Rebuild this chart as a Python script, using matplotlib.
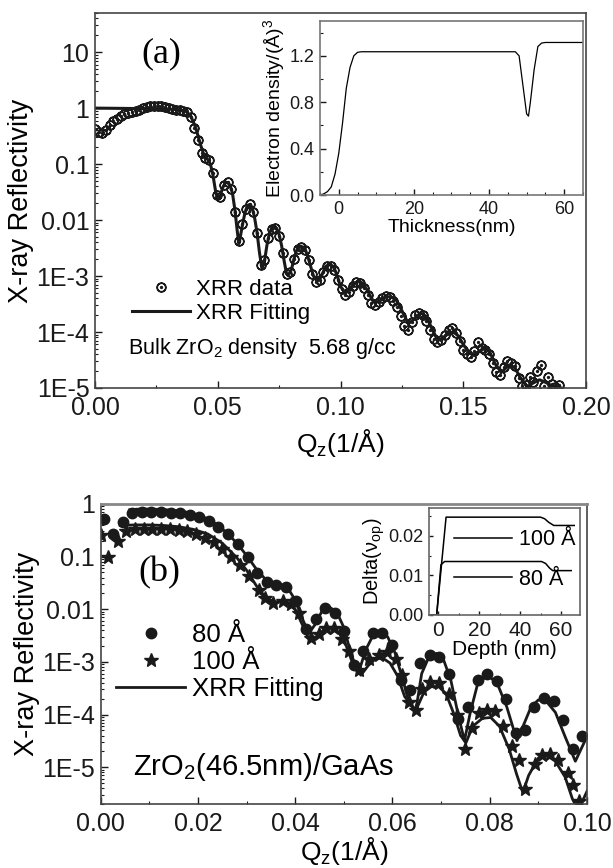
"""XRR reflectivity curves for ZrO2 on GaAs, two panels with density-profile insets."""

import matplotlib
matplotlib.use("Agg")
import matplotlib.pyplot as plt
import numpy as np
from matplotlib.ticker import FixedLocator, FixedFormatter, LogLocator, MultipleLocator, NullFormatter

plt.rcParams["font.family"] = ["Liberation Sans", "DejaVu Sans"]
plt.rcParams["mathtext.fontset"] = "custom"
plt.rcParams["mathtext.rm"] = "Liberation Sans"
plt.rcParams["mathtext.it"] = "Liberation Sans:italic"
plt.rcParams["mathtext.sf"] = "Liberation Sans"

# ---------------- panel (a): measured XRR data ----------------
qa_data = [0.0000, 0.0015, 0.0030, 0.0045, 0.0060, 0.0075, 0.0090, 0.0105, 0.0120, 0.0135,
           0.0150, 0.0165, 0.0180, 0.0195, 0.0210, 0.0225, 0.0240, 0.0255, 0.0270, 0.0285,
           0.0300, 0.0315, 0.0330, 0.0345, 0.0360, 0.0375, 0.0390, 0.0405, 0.0420, 0.0435,
           0.0450, 0.0465, 0.0480, 0.0495, 0.0510, 0.0525, 0.0540, 0.0555, 0.0570, 0.0585,
           0.0600, 0.0615, 0.0630, 0.0645, 0.0660, 0.0675, 0.0690, 0.0705, 0.0720, 0.0735,
           0.0750, 0.0765, 0.0780, 0.0795, 0.0810, 0.0825, 0.0840, 0.0855, 0.0870, 0.0885,
           0.0900, 0.0915, 0.0930, 0.0945, 0.0960, 0.0975, 0.0990, 0.1005, 0.1020, 0.1035,
           0.1050, 0.1065, 0.1080, 0.1095, 0.1110, 0.1125, 0.1140, 0.1155, 0.1170, 0.1185,
           0.1200, 0.1215, 0.1230, 0.1245, 0.1260, 0.1275, 0.1290, 0.1305, 0.1320, 0.1335,
           0.1350, 0.1365, 0.1380, 0.1395, 0.1410, 0.1425, 0.1440, 0.1455, 0.1470, 0.1485,
           0.1500, 0.1515, 0.1530, 0.1545, 0.1560, 0.1575, 0.1590, 0.1605, 0.1620, 0.1635,
           0.1650, 0.1665, 0.1680, 0.1695, 0.1710, 0.1725, 0.1740, 0.1755, 0.1770, 0.1785,
           0.1800, 0.1815, 0.1830, 0.1845, 0.1860, 0.1875, 0.1890]
ra_data = [0.42, 0.37, 0.36, 0.40, 0.50, 0.58, 0.65, 0.72, 0.78, 0.82,
           0.86, 0.90, 0.94, 1.00, 1.05, 1.08, 1.10, 1.10, 1.08, 1.05,
           1.00, 0.96, 0.93, 0.91, 0.88, 0.85, 0.70, 0.45, 0.27, 0.16,
           0.13, 0.12, 0.07, 0.028, 0.026, 0.042, 0.048, 0.036, 0.014, 0.0042,
           0.0085, 0.016, 0.019, 0.014, 0.0058, 0.0016, 0.0019, 0.0047, 0.0070, 0.0073,
           0.0053, 0.0026, 0.0011, 0.0012, 0.0020, 0.0030, 0.0033, 0.0029, 0.0019, 0.0011,
           7.8e-4, 8.5e-4, 1.2e-3, 1.5e-3, 1.5e-3, 1.3e-3, 8.5e-4, 5.8e-4, 4.6e-4, 5.2e-4,
           6.6e-4, 7.8e-4, 7.6e-4, 6.2e-4, 4.5e-4, 3.3e-4, 3.0e-4, 3.4e-4, 4.1e-4, 4.4e-4,
           4.3e-4, 3.6e-4, 2.8e-4, 1.9e-4, 1.3e-4, 1.1e-4, 1.5e-4, 2.0e-4, 2.2e-4, 2.0e-4,
           1.6e-4, 1.1e-4, 7.5e-5, 6.5e-5, 7.2e-5, 9.0e-5, 1.1e-4, 1.2e-4, 9.5e-5, 6.8e-5,
           4.8e-5, 4.0e-5, 3.6e-5, 4.5e-5, 6.6e-5, 5.2e-5, 4.8e-5, 4.1e-5, 2.8e-5, 1.9e-5,
           1.7e-5, 2.4e-5, 3.0e-5, 2.8e-5, 2.5e-5, 1.5e-5, 1.1e-5, 1.15e-5, 1.6e-5, 1.3e-5,
           2.0e-5, 2.6e-5, 1.1e-5, 1.6e-5, 1.2e-5, 1.05e-5, 1.15e-5]

# panel (a): fitted curve
qa_fit = [0.000, 0.010, 0.020, 0.030, 0.034, 0.037, 0.039, 0.041, 0.043, 0.0445,
          0.046, 0.047, 0.048, 0.049, 0.050, 0.051, 0.052, 0.053, 0.054, 0.055,
          0.056, 0.057, 0.058, 0.0586, 0.059, 0.060, 0.061, 0.062, 0.063, 0.064,
          0.065, 0.066, 0.067, 0.068, 0.069, 0.070, 0.071, 0.072, 0.073, 0.074,
          0.075, 0.076, 0.077, 0.078, 0.0787, 0.080, 0.081, 0.082, 0.083, 0.084,
          0.085, 0.086, 0.087, 0.088, 0.089, 0.0905, 0.092, 0.093, 0.094, 0.0955,
          0.097, 0.098, 0.099, 0.100, 0.102, 0.103, 0.105, 0.107, 0.109, 0.111,
          0.113, 0.114, 0.116, 0.118, 0.1205, 0.123, 0.125, 0.127, 0.128, 0.130,
          0.1326, 0.135, 0.137, 0.139, 0.140, 0.142, 0.144, 0.146, 0.148, 0.150,
          0.152, 0.154, 0.156, 0.159, 0.161, 0.163, 0.1655, 0.167, 0.169, 0.171,
          0.173, 0.176, 0.178, 0.181, 0.183, 0.186, 0.1907]
ra_fit = [1.00, 0.99, 0.98, 0.96, 0.94, 0.88, 0.72, 0.45, 0.22, 0.14,
          0.12, 0.10, 0.065, 0.035, 0.023, 0.027, 0.038, 0.046, 0.047, 0.042,
          0.030, 0.015, 0.006, 0.0038, 0.0045, 0.008, 0.013, 0.018, 0.019, 0.017,
          0.011, 0.006, 0.0026, 0.00135, 0.0018, 0.0035, 0.0057, 0.0072, 0.0076, 0.0071,
          0.0055, 0.0035, 0.0019, 0.0011, 0.00103, 0.0013, 0.0020, 0.0028, 0.0033, 0.0034,
          0.0032, 0.0027, 0.0020, 0.0014, 0.0010, 8.0e-4, 9.5e-4, 1.2e-3, 1.5e-3, 1.6e-3,
          1.5e-3, 1.2e-3, 9.0e-4, 6.5e-4, 5.0e-4, 5.3e-4, 7.0e-4, 8.0e-4, 7.5e-4, 5.5e-4,
          3.7e-4, 3.3e-4, 3.6e-4, 4.2e-4, 4.3e-4, 3.6e-4, 2.4e-4, 1.6e-4, 1.45e-4, 1.7e-4,
          2.2e-4, 1.9e-4, 1.2e-4, 8.0e-5, 7.2e-5, 8.0e-5, 9.5e-5, 1.0e-4, 8.5e-5, 6.0e-5,
          4.5e-5, 3.9e-5, 4.4e-5, 5.2e-5, 4.2e-5, 2.7e-5, 1.9e-5, 2.2e-5, 2.6e-5, 2.3e-5,
          1.6e-5, 1.04e-5, 1.2e-5, 1.4e-5, 1.3e-5, 1.1e-5, 9.8e-6]

# inset (a): electron density profile
thick_nm = [-5, -4, -3, -2, -1, 0, 1, 2, 3, 4, 5, 6, 47, 48, 49, 50, 50.5, 51, 52, 53, 54, 55, 65]
e_density = [0.0, 0.01, 0.03, 0.07, 0.18, 0.36, 0.62, 0.92, 1.10, 1.20, 1.23, 1.235, 1.235,
             1.20, 0.95, 0.70, 0.68, 0.80, 1.08, 1.28, 1.31, 1.315, 1.315]

# ---------------- panel (b) ----------------
qb_80 = [0.0006, 0.0026, 0.0045, 0.0065, 0.0085, 0.0104, 0.0124, 0.0144, 0.0164, 0.0183,
         0.0203, 0.0223, 0.0242, 0.0262, 0.0282, 0.0302, 0.0321, 0.0341, 0.0361, 0.0381,
         0.0402, 0.0422, 0.0443, 0.0462, 0.0482, 0.0501, 0.0521, 0.0540, 0.0559, 0.0579,
         0.0598, 0.0618, 0.0637, 0.0657, 0.0677, 0.0696, 0.0716, 0.0735, 0.0755, 0.0775,
         0.0794, 0.0814, 0.0834, 0.0853, 0.0873, 0.0892, 0.0912, 0.0932, 0.0951, 0.0971,
         0.0990]
rb_80 = [0.52, 0.27, 0.45, 0.68, 0.70, 0.70, 0.70, 0.68, 0.66, 0.62,
         0.56, 0.47, 0.37, 0.27, 0.17, 0.10, 0.048, 0.033, 0.029, 0.027,
         0.0143, 0.0042, 0.0065, 0.0107, 0.0086, 0.0039, 8.6e-4, 1.64e-3, 3.5e-3, 3.6e-3,
         2.1e-3, 4.5e-4, 2.9e-4, 9.5e-4, 1.38e-3, 1.23e-3, 5.8e-4, 8.2e-5, 1.4e-4, 4.6e-4,
         6.0e-4, 4.4e-4, 2.0e-4, 4.5e-5, 5.0e-5, 1.4e-4, 2.1e-4, 1.8e-4, 8.0e-5, 2.2e-5,
         3.9e-5]

qb_100 = [0.0001, 0.0016, 0.0035, 0.0052, 0.0070, 0.0088, 0.0106, 0.0124, 0.0142, 0.0160,
          0.0178, 0.0196, 0.0214, 0.0232, 0.0250, 0.0268, 0.0286, 0.0304, 0.0326, 0.0337,
          0.0354, 0.0374, 0.0391, 0.0408, 0.0432, 0.0449, 0.0464, 0.0480, 0.0497, 0.0511,
          0.0531, 0.0552, 0.0572, 0.0589, 0.0607, 0.0620, 0.0634, 0.0648, 0.0661, 0.0678,
          0.0695, 0.0716, 0.0733, 0.0750, 0.0764, 0.0777, 0.0794, 0.0811, 0.0828, 0.0845,
          0.0860, 0.0872, 0.0893, 0.0908, 0.0924, 0.0941, 0.0960, 0.0972, 0.0984]
rb_100 = [0.26, 0.10, 0.20, 0.30, 0.33, 0.33, 0.34, 0.34, 0.33, 0.32,
          0.30, 0.27, 0.23, 0.19, 0.14, 0.10, 0.068, 0.042, 0.0237, 0.0165,
          0.0133, 0.0143, 0.0124, 0.0086, 0.0029, 0.0034, 0.0045, 0.0045, 0.0027, 0.0016,
          6.9e-4, 1.15e-3, 1.38e-3, 1.53e-3, 1.15e-3, 5.6e-4, 1.76e-4, 1.2e-4, 3.0e-4, 4.2e-4,
          4.0e-4, 2.5e-4, 1.0e-4, 2.2e-5, 5.6e-5, 1.06e-4, 1.23e-4, 1.15e-4, 6.0e-5, 2.5e-5,
          1.4e-5, 3.9e-6, 1.15e-5, 1.7e-5, 1.8e-5, 1.4e-5, 7.9e-6, 4.5e-6, 2.3e-6]

qb_fit80 = [0.0060, 0.0080, 0.0100, 0.0120, 0.0140, 0.0160, 0.0180, 0.0200, 0.0220, 0.0240,
            0.0260, 0.0280, 0.0300, 0.0320, 0.0340, 0.0355, 0.0370, 0.0385, 0.0400, 0.0415,
            0.0428, 0.0440, 0.0455, 0.0470, 0.0485, 0.0500, 0.0515, 0.0530, 0.0545, 0.0560,
            0.0575, 0.0590, 0.0605, 0.0620, 0.0635, 0.0648, 0.0660, 0.0675, 0.0690, 0.0705,
            0.0720, 0.0735, 0.0748, 0.0760, 0.0775, 0.0795, 0.0815, 0.0835, 0.0856, 0.0870,
            0.0885, 0.0900, 0.0916, 0.0935, 0.0955, 0.0976, 0.0996]
rb_fit80 = [0.78, 0.80, 0.80, 0.79, 0.77, 0.74, 0.69, 0.62, 0.52, 0.40,
            0.28, 0.18, 0.105, 0.058, 0.036, 0.031, 0.030, 0.025, 0.015, 0.0065,
            0.0035, 0.0050, 0.0092, 0.0110, 0.0090, 0.0045, 0.0014, 6.2e-4, 1.7e-3, 3.2e-3,
            3.8e-3, 3.0e-3, 1.5e-3, 5.0e-4, 1.6e-4, 1.2e-4, 6.0e-4, 1.25e-3, 1.45e-3, 1.1e-3,
            4.5e-4, 1.0e-4, 3.2e-5, 1.1e-4, 3.8e-4, 5.6e-4, 4.0e-4, 1.4e-4, 3.2e-5, 6.5e-5,
            1.4e-4, 1.9e-4, 1.8e-4, 1.1e-4, 3.8e-5, 1.3e-5, 3.2e-5]

qb_fit100 = [0.0040, 0.0070, 0.0100, 0.0130, 0.0160, 0.0190, 0.0220, 0.0250, 0.0280, 0.0300,
             0.0320, 0.0340, 0.0360, 0.0380, 0.0400, 0.0415, 0.0430, 0.0445, 0.0460, 0.0475,
             0.0490, 0.0505, 0.0520, 0.0535, 0.0550, 0.0565, 0.0580, 0.0595, 0.0610, 0.0625,
             0.0648, 0.0665, 0.0680, 0.0695, 0.0710, 0.0725, 0.0740, 0.0751, 0.0765, 0.0785,
             0.0802, 0.0820, 0.0840, 0.0855, 0.0868, 0.0880, 0.0900, 0.0916, 0.0935, 0.0955,
             0.0970, 0.0978, 0.0990, 0.1000]
rb_fit100 = [0.39, 0.40, 0.40, 0.39, 0.37, 0.33, 0.27, 0.18, 0.095, 0.055,
             0.028, 0.016, 0.0138, 0.0138, 0.0100, 0.0050, 0.0025, 0.0030, 0.0042, 0.0045,
             0.0036, 0.0020, 8.5e-4, 5.6e-4, 8.5e-4, 1.15e-3, 1.18e-3, 9.5e-4, 5.5e-4, 2.2e-4,
             1.2e-4, 2.7e-4, 3.4e-4, 3.4e-4, 2.5e-4, 1.1e-4, 4.0e-5, 2.9e-5, 6.0e-5, 8.5e-5,
             8.8e-5, 6.0e-5, 2.2e-5, 7.5e-6, 3.3e-6, 7.0e-6, 1.5e-5, 1.7e-5, 1.3e-5, 6.5e-6,
             2.5e-6, 1.8e-6, 2.2e-6, 3.5e-6]

# inset (b): optical delta profiles
depth_100 = [-4, -0.8, 3.8, 50, 52, 54, 56.5, 66.5]
delta_100 = [0.0, 0.0, 0.0247, 0.0247, 0.0243, 0.0234, 0.0226, 0.0226]
depth_80 = [-4, -0.8, 1.3, 3.1, 50.5, 52.5, 54.5, 56, 65]
delta_80 = [0.0, 0.0, 0.0127, 0.0135, 0.0135, 0.0130, 0.0118, 0.0112, 0.0112]

# tick labels
ya_ticks = [1e-5, 1e-4, 1e-3, 1e-2, 1e-1, 1, 10]
ya_labels = ["1E-5", "1E-4", "1E-3", "0.01", "0.1", "1", "10"]
yb_ticks = [1e-5, 1e-4, 1e-3, 1e-2, 1e-1, 1]
yb_labels = ["1E-5", "1E-4", "1E-3", "0.01", "0.1", "1"]

INK = "#1a1a1a"


def style_ticks(ax, size, major=5, minor=2.5):
    ax.tick_params(which="both", direction="in", top=False, right=False, colors=INK)
    ax.tick_params(which="major", length=major, width=1.0, labelsize=size, pad=4)
    ax.tick_params(which="minor", length=minor, width=0.8)


def log_yaxis(ax, ticks, labels):
    ax.set_yscale("log")
    ax.yaxis.set_major_locator(FixedLocator(ticks))
    ax.yaxis.set_major_formatter(FixedFormatter(labels))
    ax.yaxis.set_minor_locator(LogLocator(base=10, subs=np.arange(2, 10), numticks=30))
    ax.yaxis.set_minor_formatter(NullFormatter())


fig = plt.figure(figsize=(6.13, 8.68), dpi=100)

# ---------- panel (a) ----------
ax_a = fig.add_axes([0.155, 0.553, 0.801, 0.432])
ax_a.plot(qa_data, ra_data, linestyle="none", marker=r"$\odot$", markersize=6.5,
          color=INK, label="XRR data")
ax_a.plot(qa_fit, ra_fit, "-", color=INK, lw=2.2, label="XRR Fitting")
log_yaxis(ax_a, ya_ticks, ya_labels)
ax_a.set_ylim(1e-5, 50)
ax_a.set_xlim(0, 0.2)
ax_a.xaxis.set_major_locator(MultipleLocator(0.05))
ax_a.xaxis.set_minor_locator(MultipleLocator(0.025))
ax_a.xaxis.set_major_formatter(matplotlib.ticker.FormatStrFormatter("%.2f"))
style_ticks(ax_a, 18)
ax_a.tick_params(axis="x", pad=6)
for sp in ax_a.spines.values():
    sp.set_color("#444444")
    sp.set_linewidth(1.2)
ax_a.set_xlabel(r"Q$_\mathrm{z}$(1/Å)", fontsize=19, labelpad=5)
ax_a.set_ylabel("X-ray Reflectivity", fontsize=19.5, labelpad=2)
ax_a.text(0.1356, 0.891, "(a)", transform=ax_a.transAxes, fontsize=26,
          family="Liberation Serif", ha="center", va="center")
ax_a.legend(loc="upper left", bbox_to_anchor=(0.076, 0.29), frameon=False, fontsize=16,
            borderpad=0, borderaxespad=0, handlelength=2.6, handletextpad=0.25,
            labelspacing=0.12)
ax_a.text(0.067, 0.106, r"Bulk ZrO$_2$ density  5.68 g/cc", transform=ax_a.transAxes,
          fontsize=15.5, ha="left", va="center")

# inset (a)
ax_ia = fig.add_axes([0.522, 0.7753, 0.429, 0.2005])
ax_ia.plot(thick_nm, e_density, "-", color="black", lw=0.9)
ax_ia.set_xlim(-5, 65)
ax_ia.set_ylim(0, 1.5)
ax_ia.xaxis.set_major_locator(MultipleLocator(20))
ax_ia.xaxis.set_minor_locator(MultipleLocator(5))
ax_ia.yaxis.set_major_locator(FixedLocator([0.0, 0.4, 0.8, 1.2]))
ax_ia.yaxis.set_minor_locator(MultipleLocator(0.2))
ax_ia.yaxis.set_major_formatter(matplotlib.ticker.FormatStrFormatter("%.1f"))
style_ticks(ax_ia, 13, major=4, minor=2)
for sp in ax_ia.spines.values():
    sp.set_color("#777777")
    sp.set_linewidth(1.2)
ax_ia.set_xlabel("Thickness(nm)", fontsize=14, labelpad=1)
ax_ia.set_ylabel(r"Electron density/(Å)$^3$", fontsize=14, labelpad=2)

# ---------- panel (b) ----------
ax_b = fig.add_axes([0.1643, 0.0737, 0.7933, 0.3457])
ax_b.plot(qb_fit80, rb_fit80, "-", color=INK, lw=2.0)
ax_b.plot(qb_fit100, rb_fit100, "-", color=INK, lw=2.0)
ax_b.plot(qb_80, rb_80, "o", color=INK, markersize=7.5, linestyle="none", label="80 Å")
ax_b.plot(qb_100, rb_100, "*", color=INK, markersize=10, linestyle="none", label="100 Å")
ax_b.plot([], [], "-", color=INK, lw=2.0, label="XRR Fitting")
log_yaxis(ax_b, yb_ticks, yb_labels)
ax_b.set_ylim(2e-6, 1)
ax_b.set_xlim(0, 0.1)
ax_b.xaxis.set_major_locator(MultipleLocator(0.02))
ax_b.xaxis.set_minor_locator(MultipleLocator(0.01))
ax_b.xaxis.set_major_formatter(matplotlib.ticker.FormatStrFormatter("%.2f"))
style_ticks(ax_b, 18)
ax_b.tick_params(axis="x", pad=6)
for sp in ax_b.spines.values():
    sp.set_color("#444444")
    sp.set_linewidth(1.2)
ax_b.spines["top"].set_color("#888888")
ax_b.spines["top"].set_linewidth(2)
ax_b.set_xlabel(r"Q$_\mathrm{z}$(1/Å)", fontsize=19, labelpad=-1)
ax_b.set_ylabel("X-ray Reflectivity", fontsize=19.5, labelpad=2)
ax_b.text(0.121, 0.771, "(b)", transform=ax_b.transAxes, fontsize=26,
          family="Liberation Serif", ha="center", va="center")
ax_b.legend(loc="upper left", bbox_to_anchor=(0.0315, 0.604), frameon=False, fontsize=18.5,
            borderpad=0, borderaxespad=0, handlelength=2.7, handletextpad=0.27,
            labelspacing=0.12)
ax_b.text(0.066, 0.124, r"ZrO$_2$(46.5nm)/GaAs", transform=ax_b.transAxes,
          fontsize=21, ha="left", va="center")

# inset (b)
ax_ib = fig.add_axes([0.70, 0.2915, 0.2468, 0.1232])
ax_ib.plot(depth_100, delta_100, "-", color="black", lw=1.1, label="100 Å")
ax_ib.plot(depth_80, delta_80, "-", color="black", lw=1.1, label="80 Å")
ax_ib.set_xlim(-4.5, 69.5)
ax_ib.set_ylim(0, 0.027)
ax_ib.xaxis.set_major_locator(MultipleLocator(20))
ax_ib.xaxis.set_minor_locator(MultipleLocator(10))
ax_ib.yaxis.set_major_locator(MultipleLocator(0.01))
ax_ib.yaxis.set_minor_locator(MultipleLocator(0.005))
ax_ib.yaxis.set_major_formatter(matplotlib.ticker.FormatStrFormatter("%.2f"))
style_ticks(ax_ib, 15, major=3, minor=1.5)
ax_ib.tick_params(axis="y", labelsize=13)
for sp in ax_ib.spines.values():
    sp.set_color("#666666")
    sp.set_linewidth(1.2)
ax_ib.set_xlabel("Depth (nm)", fontsize=15, labelpad=0)
ax_ib.set_ylabel(r"Delta(ν$_\mathrm{op}$)", fontsize=14.5, labelpad=1)
ax_ib.legend(loc="upper left", bbox_to_anchor=(0.165, 0.80), frameon=False, fontsize=15.5,
             borderpad=0, borderaxespad=0, handlelength=2.7, handletextpad=0.3,
             labelspacing=0.85)

fig.savefig("out.png", dpi=100)
